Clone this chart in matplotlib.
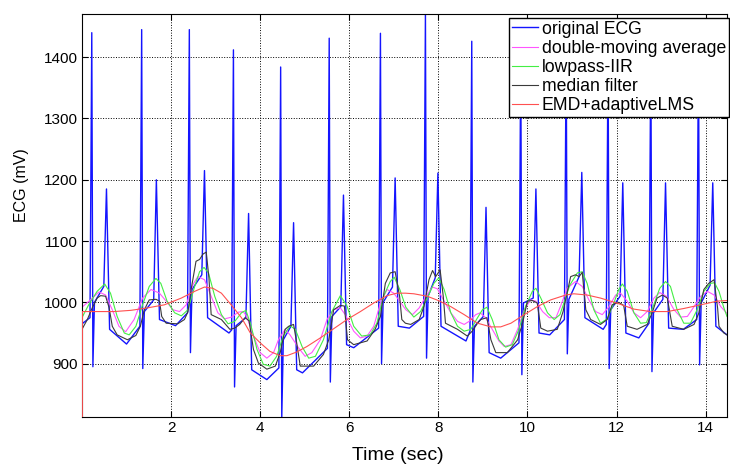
import matplotlib
matplotlib.use("Agg")
import matplotlib.pyplot as plt

plt.rcParams["font.family"] = ["Liberation Sans", "DejaVu Sans"]

# ECG beats: R spike, S dip, T wave and the baseline levels in between
r_t = [0.22, 1.34, 2.41, 3.40, 4.46, 5.55, 6.70, 7.71, 8.75, 9.85, 10.87, 11.81, 12.77, 13.84]
r_v = [1440, 1445, 1445, 1412, 1384, 1431, 1439, 1472, 1426, 1410, 1420, 1415, 1420, 1420]
s_v = [895, 892, 918, 862, 812, 870, 900, 909, 870, 882, 916, 892, 887, 898]
pre_v = [975, 961, 983, 955, 893, 925, 958, 977, 953, 934, 972, 964, 966, 972]
st_v = [1000, 985, 1021, 962, 939, 977, 1000, 1010, 961, 999, 1005, 988, 983, 999]
ramp_v = [1026, 1004, 1045, 975, 961, 993, 1025, 1040, 977, 1007, 1042, 1010, 1005, 1028]
t_t = [0.55, 1.67, 2.75, 3.74, 4.75, 5.87, 7.03, 7.99, 9.07, 10.19, 11.22, 12.14, 13.10, 14.16]
t_v = [1185, 1200, 1215, 1145, 1130, 1175, 1203, 1211, 1155, 1185, 1212, 1195, 1195, 1195]
post_v = [956, 972, 975, 890, 890, 931, 961, 961, 918, 950, 975, 950, 958, 961]
trough_t = [1.00, 2.10, 3.30, 4.15, 4.95, 6.10, 7.35, 8.62, 9.40, 10.50, 11.70, 12.50, 13.50, 14.48]
trough_v = [932, 962, 950, 874, 885, 926, 958, 937, 909, 947, 956, 942, 956, 947]
ecg_start = 965

# double-moving average
dma_t = [0.00, 0.19, 0.38, 0.53, 0.68, 0.83, 0.98, 1.17, 1.36, 1.55, 1.74, 1.89, 2.04, 2.19,
         2.34, 2.49, 2.60, 2.75, 2.90, 3.05, 3.20, 3.36, 3.51, 3.62, 3.70, 3.85, 4.00, 4.15,
         4.30, 4.41, 4.56, 4.67, 4.86, 5.01, 5.16, 5.35, 5.50, 5.65, 5.80, 5.91, 6.10, 6.25,
         6.40, 6.55, 6.70, 6.85, 7.00, 7.15, 7.27, 7.42, 7.57, 7.72, 7.87, 7.98, 8.13, 8.28,
         8.43, 8.58, 8.69, 8.84, 8.94, 9.06, 9.21, 9.36, 9.48, 9.63, 9.78, 9.93, 10.07, 10.19,
         10.34, 10.49, 10.64, 10.75, 10.89, 11.08, 11.23, 11.38, 11.53, 11.68, 11.83, 11.98,
         12.09, 12.24, 12.39, 12.54, 12.69, 12.84, 12.97, 13.12, 13.29, 13.44, 13.59, 13.74,
         13.89, 14.04, 14.19, 14.34, 14.48]
dma_v = [992, 1004, 1017, 1012, 988, 961, 952, 972, 1007, 1021, 1015, 1002, 988, 985,
         996, 1029, 1042, 1037, 1010, 983, 973, 976, 984, 985, 977, 945, 918, 909,
         918, 939, 956, 947, 926, 912, 918, 939, 972, 988, 991, 980, 953, 942,
         945, 961, 999, 1021, 1015, 1000, 988, 980, 991, 1010, 1025, 1022, 1002, 983,
         969, 964, 969, 980, 983, 975, 956, 937, 928, 931, 956, 988, 1004, 1002,
         985, 975, 975, 995, 1023, 1034, 1026, 1004, 985, 980, 993, 1012,
         1015, 1002, 983, 975, 985, 1007, 1016, 1010, 988, 976, 977, 993,
         1010, 1018, 1012, 993, 982]

# lowpass IIR
iir_t = [0.00, 0.15, 0.34, 0.51, 0.64, 0.79, 0.95, 1.06, 1.21, 1.36, 1.51, 1.66, 1.77, 1.91,
         2.08, 2.23, 2.38, 2.53, 2.64, 2.74, 2.84, 2.98, 3.13, 3.28, 3.43, 3.58, 3.68, 3.78,
         3.93, 4.07, 4.22, 4.37, 4.52, 4.67, 4.79, 4.94, 5.09, 5.24, 5.42, 5.61, 5.80, 5.95,
         6.10, 6.28, 6.47, 6.62, 6.77, 6.92, 7.01, 7.14, 7.27, 7.45, 7.60, 7.75, 7.90, 8.01,
         8.13, 8.28, 8.43, 8.58, 8.73, 8.88, 8.99, 9.09, 9.21, 9.36, 9.51, 9.66, 9.81, 9.96,
         10.11, 10.19, 10.30, 10.45, 10.60, 10.73, 10.86, 10.95, 11.12, 11.23, 11.34, 11.49,
         11.64, 11.79, 11.94, 12.05, 12.13, 12.24, 12.39, 12.54, 12.67, 12.82, 12.97, 13.10,
         13.21, 13.36, 13.51, 13.66, 13.81, 13.96, 14.11, 14.20, 14.30, 14.41, 14.48]
iir_v = [975, 996, 1018, 1030, 1015, 977, 950, 947, 961, 996, 1026, 1039, 1031, 1002,
         983, 978, 988, 1026, 1050, 1057, 1048, 1010, 980, 965, 969, 983, 987, 966,
         923, 899, 896, 912, 945, 962, 956, 928, 909, 912, 939, 985, 1011, 994,
         961, 945, 947, 966, 1010, 1034, 1041, 1020, 992, 976, 985, 1007, 1031, 1040,
         1021, 983, 961, 953, 956, 975, 988, 992, 972, 939, 927, 931, 956, 994,
         1018, 1023, 1007, 983, 972, 980, 1008, 1028, 1048, 1050, 1031, 988,
         966, 973, 999, 1021, 1030, 1018, 983, 966, 967, 993, 1023, 1034,
         1026, 988, 966, 966, 988, 1018, 1031, 1032, 1018, 991, 977]

# median filter
med_t = [0.00, 0.12, 0.23, 0.34, 0.42, 0.53, 0.61, 0.68, 0.79, 1.02, 1.21, 1.31, 1.40, 1.51,
         1.66, 1.74, 1.79, 1.89, 2.15, 2.30, 2.38, 2.45, 2.56, 2.64, 2.72, 2.79, 2.85, 2.90,
         3.13, 3.32, 3.43, 3.54, 3.66, 3.75, 3.85, 3.96, 4.15, 4.34, 4.45, 4.56, 4.64, 4.75,
         4.82, 4.90, 5.20, 5.42, 5.54, 5.65, 5.80, 5.89, 5.96, 6.10, 6.40, 6.58, 6.70, 6.81,
         6.92, 7.03, 7.13, 7.18, 7.26, 7.38, 7.57, 7.68, 7.79, 7.87, 7.94, 8.04, 8.11, 8.16,
         8.43, 8.65, 8.76, 8.88, 8.95, 9.09, 9.18, 9.29, 9.55, 9.78, 9.89, 10.00, 10.11, 10.22,
         10.30, 10.45, 10.67, 10.80, 10.97, 11.08, 11.16, 11.23, 11.31, 11.42, 11.64, 11.79,
         11.90, 12.05, 12.16, 12.24, 12.46, 12.69, 12.80, 12.91, 13.03, 13.14, 13.25, 13.51,
         13.74, 13.85, 13.96, 14.07, 14.19, 14.27, 14.30, 14.41, 14.48]
med_v = [956, 972, 991, 1007, 1011, 1010, 991, 961, 947, 939, 946, 961, 988, 1004,
         1005, 1002, 977, 966, 965, 972, 985, 1021, 1067, 1070, 1079, 1082, 1040, 980,
         972, 956, 958, 964, 975, 970, 923, 901, 891, 896, 918, 956, 961, 964,
         934, 896, 896, 915, 939, 988, 995, 994, 939, 931, 937, 956, 977, 1031,
         1048, 1050, 1010, 972, 966, 964, 972, 994, 1037, 1052, 1042, 1053, 1010, 966,
         956, 945, 953, 966, 972, 975, 939, 918, 918, 939, 966, 1002, 1003, 999,
         958, 953, 956, 985, 1042, 1045, 1042, 1049, 988, 972, 964, 972,
         996, 1000, 995, 961, 956, 964, 983, 1007, 1012, 1007, 961, 956,
         964, 983, 1021, 1031, 1037, 990, 961, 950, 947]

# EMD + adaptive LMS (output starts from zero)
emd_t = [0.00, 0.01, 0.72, 1.10, 1.47, 1.85, 2.23, 2.53, 2.75, 2.94, 3.13, 3.36, 3.58, 3.78,
         4.00, 4.22, 4.45, 4.60, 4.82, 5.05, 5.35, 5.65, 5.95, 6.25, 6.55, 6.85, 7.07, 7.26,
         7.45, 7.75, 8.00, 8.28, 8.58, 8.88, 9.18, 9.40, 9.63, 9.93, 10.22, 10.52, 10.86,
         11.04, 11.34, 11.64, 12.00, 12.39, 12.76, 13.14, 13.51, 13.89, 14.26, 14.48]
emd_v = [0, 985, 985, 987, 991, 996, 1007, 1018, 1025, 1023, 1015, 995, 975, 950,
         934, 920, 913, 913, 919, 928, 942, 957, 972, 985, 999, 1011, 1015, 1015,
         1014, 1010, 1003, 993, 980, 966, 960, 960, 966, 980, 993, 1004, 1012,
         1014, 1012, 1007, 999, 989, 985, 985, 990, 996, 1002, 1003]

x_ticks = [2, 4, 6, 8, 10, 12, 14]
y_ticks = [900, 1000, 1100, 1200, 1300, 1400]

# assemble the raw ECG polyline beat by beat
ecg_t = [0.0]
ecg_v = [ecg_start]
for i in range(len(r_t)):
    ecg_t += [r_t[i] - 0.04, r_t[i], r_t[i] + 0.025, r_t[i] + 0.06,
              t_t[i] - 0.06, t_t[i], t_t[i] + 0.07, trough_t[i]]
    ecg_v += [pre_v[i], r_v[i], s_v[i], st_v[i],
              ramp_v[i], t_v[i], post_v[i], trough_v[i]]

fig = plt.figure(figsize=(7.3, 4.7), dpi=100)
fig.set_facecolor("white")
ax = fig.add_axes([0.1123, 0.1128, 0.8836, 0.8568])

ax.plot(ecg_t, ecg_v, color="#1414ff", lw=1.0, label="original ECG")
ax.plot(dma_t, dma_v, color="#ff55ff", lw=0.8, label="double-moving average")
ax.plot(iir_t, iir_v, color="#44ee44", lw=0.8, label="lowpass-IIR")
ax.plot(med_t, med_v, color="#3a3a3a", lw=0.8, label="median filter")
ax.plot(emd_t, emd_v, color="#ff5050", lw=0.8, label="EMD+adaptiveLMS", zorder=3)

ax.set_xlim(0, 14.48)
ax.set_ylim(813, 1470)
ax.set_xticks(x_ticks)
ax.set_yticks(y_ticks)
ax.grid(True, ls=":", color="k", lw=0.7)
ax.tick_params(direction="in", top=True, right=True, length=4, labelsize=11,
               colors="black", pad=3)
for sp in ax.spines.values():
    sp.set_linewidth(0.8)
    sp.set_color("black")

ax.set_xlabel("Time (sec)", fontsize=14)
ax.xaxis.set_label_coords(0.49, -0.075)
ax.set_ylabel("ECG (mV)", fontsize=11.5)
ax.yaxis.set_label_coords(-0.082, 0.576)

ax.legend(loc="upper left", bbox_to_anchor=(509 / 730, 1 - 18 / 470),
          bbox_transform=fig.transFigure, fontsize=12.7, fancybox=False,
          framealpha=1, edgecolor="black", borderpad=0.15, labelspacing=0.12,
          handlelength=1.5, handletextpad=0.2, borderaxespad=0)

plt.savefig("out.png", dpi=100, facecolor="white")
